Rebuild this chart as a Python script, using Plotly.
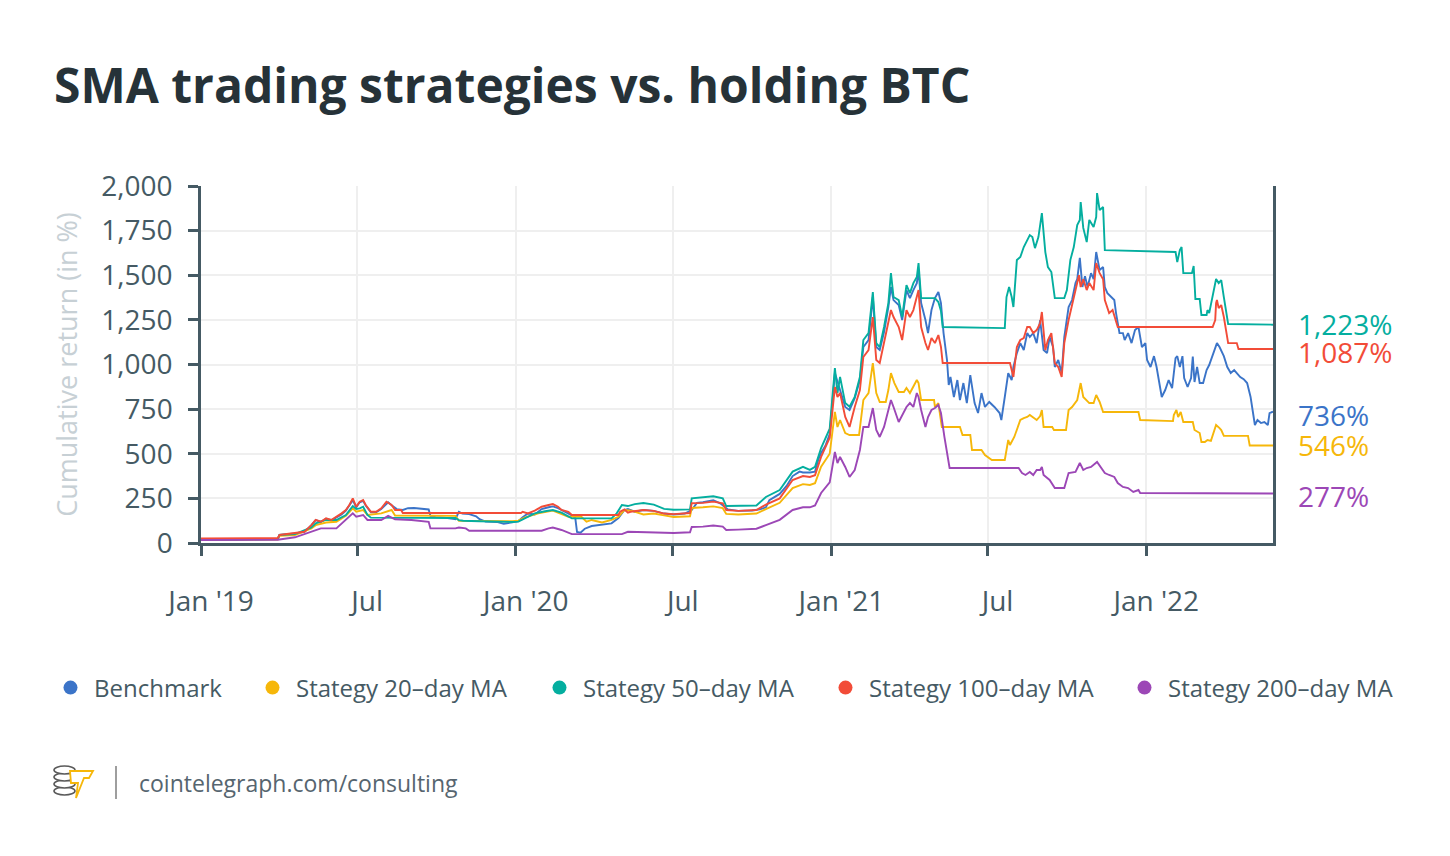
import plotly.graph_objects as go

# ---------------- data (cumulative return, %) ----------------
benchmark = [
    ("2019-01-01", 20), ("2019-02-10", 17), ("2019-03-31", 22), ("2019-04-02", 45), ("2019-04-20", 54),
    ("2019-05-01", 62), ("2019-05-09", 100), ("2019-05-14", 128), ("2019-05-20", 118), ("2019-05-26", 136),
    ("2019-06-01", 126), ("2019-06-07", 145), ("2019-06-13", 160), ("2019-06-18", 182), ("2019-06-22", 208),
    ("2019-06-26", 240), ("2019-06-30", 200), ("2019-07-04", 228), ("2019-07-08", 236), ("2019-07-11", 210),
    ("2019-07-17", 172), ("2019-07-23", 172), ("2019-07-29", 190), ("2019-08-06", 228), ("2019-08-10", 212),
    ("2019-08-16", 190), ("2019-08-23", 185), ("2019-08-29", 195), ("2019-09-05", 196), ("2019-09-14", 192),
    ("2019-09-22", 188), ("2019-09-24", 152), ("2019-09-30", 145), ("2019-10-10", 142), ("2019-10-19", 138),
    ("2019-10-23", 133), ("2019-10-27", 175), ("2019-10-31", 165), ("2019-11-08", 162), ("2019-11-16", 150),
    ("2019-11-20", 133), ("2019-11-27", 120), ("2019-12-10", 118), ("2019-12-18", 108), ("2019-12-28", 116),
    ("2020-01-04", 122), ("2020-01-09", 145), ("2020-01-15", 165), ("2020-01-23", 160), ("2020-01-31", 190),
    ("2020-02-08", 200), ("2020-02-13", 205), ("2020-02-19", 195), ("2020-02-25", 180), ("2020-03-06", 155),
    ("2020-03-10", 140), ("2020-03-12", 62), ("2020-03-16", 58), ("2020-03-21", 80), ("2020-03-29", 95),
    ("2020-04-05", 100), ("2020-04-13", 105), ("2020-04-21", 110), ("2020-04-29", 140), ("2020-05-06", 185),
    ("2020-05-10", 190), ("2020-05-18", 175), ("2020-05-28", 185), ("2020-06-09", 180), ("2020-06-21", 165),
    ("2020-07-02", 160), ("2020-07-15", 165), ("2020-07-23", 185), ("2020-07-29", 225), ("2020-08-05", 228),
    ("2020-08-17", 240), ("2020-08-25", 222), ("2020-09-03", 188), ("2020-09-15", 180), ("2020-10-01", 182),
    ("2020-10-10", 188), ("2020-10-17", 200), ("2020-10-21", 240), ("2020-11-02", 275), ("2020-11-10", 320),
    ("2020-11-17", 375), ("2020-11-25", 400), ("2020-11-29", 395), ("2020-12-07", 395), ("2020-12-13", 400),
    ("2020-12-17", 470), ("2020-12-20", 505), ("2020-12-25", 545), ("2020-12-30", 610), ("2021-01-05", 952),
    ("2021-01-11", 857), ("2021-01-17", 762), ("2021-01-22", 745), ("2021-01-28", 812), ("2021-02-03", 913),
    ("2021-02-07", 1098), ("2021-02-13", 1137), ("2021-02-18", 1378), ("2021-02-22", 1098), ("2021-02-26", 1081),
    ("2021-03-03", 1182), ("2021-03-08", 1322), ("2021-03-11", 1434), ("2021-03-14", 1361), ("2021-03-20", 1333),
    ("2021-03-24", 1249), ("2021-03-29", 1417), ("2021-04-02", 1372), ("2021-04-06", 1417), ("2021-04-10", 1456),
    ("2021-04-12", 1529), ("2021-04-15", 1344), ("2021-04-20", 1249), ("2021-04-23", 1176), ("2021-04-27", 1305),
    ("2021-05-01", 1372), ("2021-05-05", 1406), ("2021-05-08", 1344), ("2021-05-11", 1176), ("2021-05-15", 1025),
    ("2021-05-17", 885), ("2021-05-19", 930), ("2021-05-23", 818), ("2021-05-27", 913), ("2021-05-30", 801),
    ("2021-06-03", 896), ("2021-06-07", 784), ("2021-06-11", 941), ("2021-06-16", 784), ("2021-06-20", 728),
    ("2021-06-24", 840), ("2021-06-28", 762), ("2021-07-03", 790), ("2021-07-09", 762), ("2021-07-15", 728),
    ("2021-07-17", 689), ("2021-07-21", 818), ("2021-07-25", 952), ("2021-07-29", 913), ("2021-07-31", 986),
    ("2021-08-04", 1064), ("2021-08-08", 1120), ("2021-08-12", 1081), ("2021-08-16", 1176), ("2021-08-19", 1154),
    ("2021-08-23", 1176), ("2021-08-27", 1120), ("2021-08-31", 1249), ("2021-09-04", 1081), ("2021-09-08", 1064),
    ("2021-09-11", 1154), ("2021-09-15", 1098), ("2021-09-17", 986), ("2021-09-21", 1025), ("2021-09-25", 952),
    ("2021-09-28", 1154), ("2021-10-03", 1322), ("2021-10-07", 1361), ("2021-10-11", 1456), ("2021-10-13", 1478),
    ("2021-10-16", 1597), ("2021-10-19", 1434), ("2021-10-22", 1495), ("2021-10-25", 1434), ("2021-10-29", 1512),
    ("2021-11-01", 1478), ("2021-11-04", 1630), ("2021-11-08", 1529), ("2021-11-12", 1546), ("2021-11-14", 1434),
    ("2021-11-17", 1400), ("2021-11-21", 1378), ("2021-11-25", 1361), ("2021-11-27", 1288), ("2021-12-01", 1176),
    ("2021-12-05", 1176), ("2021-12-07", 1137), ("2021-12-11", 1176), ("2021-12-15", 1120), ("2021-12-19", 1193),
    ("2021-12-23", 1210), ("2021-12-27", 1098), ("2021-12-31", 1120), ("2022-01-02", 1025), ("2022-01-06", 986),
    ("2022-01-10", 1047), ("2022-01-13", 986), ("2022-01-17", 874), ("2022-01-19", 818), ("2022-01-23", 857),
    ("2022-01-27", 913), ("2022-01-31", 868), ("2022-02-04", 1036), ("2022-02-06", 1047), ("2022-02-09", 986),
    ("2022-02-12", 1047), ("2022-02-14", 924), ("2022-02-18", 874), ("2022-02-22", 924), ("2022-02-24", 1044),
    ("2022-02-26", 902), ("2022-03-01", 986), ("2022-03-04", 896), ("2022-03-08", 896), ("2022-03-12", 969),
    ("2022-03-15", 997), ("2022-03-19", 1047), ("2022-03-24", 1120), ("2022-03-27", 1098), ("2022-04-01", 1047),
    ("2022-04-05", 986), ("2022-04-09", 952), ("2022-04-13", 969), ("2022-04-16", 952), ("2022-04-20", 930),
    ("2022-04-24", 918), ("2022-04-28", 896), ("2022-05-02", 818), ("2022-05-05", 706), ("2022-05-07", 661),
    ("2022-05-10", 689), ("2022-05-14", 672), ("2022-05-18", 678), ("2022-05-22", 661), ("2022-05-24", 728),
    ("2022-05-28", 736),
]

ma20 = [
    ("2019-01-01", 19), ("2019-03-31", 20), ("2019-04-02", 40), ("2019-04-20", 45), ("2019-05-09", 82),
    ("2019-05-14", 100), ("2019-05-26", 115), ("2019-06-07", 119), ("2019-06-18", 152), ("2019-06-26", 194),
    ("2019-06-30", 175), ("2019-07-04", 180), ("2019-07-08", 185), ("2019-07-13", 157), ("2019-07-29", 166),
    ("2019-08-10", 185), ("2019-08-14", 154), ("2019-10-23", 152), ("2019-10-27", 125), ("2019-12-28", 122),
    ("2020-01-04", 125), ("2020-01-11", 142), ("2020-01-27", 166), ("2020-02-13", 181), ("2020-02-23", 163),
    ("2020-03-02", 147), ("2020-03-17", 147), ("2020-03-23", 119), ("2020-03-29", 129), ("2020-04-10", 115),
    ("2020-04-21", 129), ("2020-04-29", 147), ("2020-05-06", 185), ("2020-05-14", 181), ("2020-05-28", 160),
    ("2020-06-09", 165), ("2020-06-21", 155), ("2020-07-02", 146), ("2020-07-21", 150), ("2020-07-23", 196),
    ("2020-08-05", 200), ("2020-08-17", 205), ("2020-08-28", 195), ("2020-09-01", 163), ("2020-09-15", 160),
    ("2020-10-06", 165), ("2020-10-17", 190), ("2020-11-02", 225), ("2020-11-17", 308), ("2020-11-29", 330),
    ("2020-12-07", 325), ("2020-12-13", 335), ("2020-12-20", 427), ("2020-12-30", 500), ("2021-01-05", 734),
    ("2021-01-08", 650), ("2021-01-11", 689), ("2021-01-17", 616), ("2021-01-22", 605), ("2021-02-02", 605),
    ("2021-02-07", 801), ("2021-02-13", 840), ("2021-02-18", 1008), ("2021-02-22", 840), ("2021-02-26", 790),
    ("2021-03-05", 790), ("2021-03-08", 857), ("2021-03-11", 952), ("2021-03-15", 896), ("2021-03-20", 846),
    ("2021-03-26", 846), ("2021-03-29", 868), ("2021-04-02", 840), ("2021-04-06", 874), ("2021-04-10", 913),
    ("2021-04-12", 896), ("2021-04-15", 801), ("2021-04-30", 801), ("2021-05-01", 762), ("2021-05-05", 784),
    ("2021-05-09", 650), ("2021-05-30", 650), ("2021-06-02", 605), ("2021-06-11", 605), ("2021-06-13", 521),
    ("2021-06-24", 521), ("2021-06-28", 493), ("2021-07-06", 465), ("2021-07-21", 465), ("2021-07-25", 577),
    ("2021-07-27", 549), ("2021-08-01", 594), ("2021-08-05", 650), ("2021-08-08", 689), ("2021-08-12", 700),
    ("2021-08-16", 706), ("2021-08-19", 717), ("2021-08-22", 706), ("2021-08-27", 689), ("2021-08-31", 711),
    ("2021-09-02", 745), ("2021-09-04", 650), ("2021-09-14", 650), ("2021-09-16", 633), ("2021-09-30", 633),
    ("2021-10-03", 745), ("2021-10-07", 762), ("2021-10-13", 801), ("2021-10-17", 896), ("2021-10-20", 818),
    ("2021-10-24", 801), ("2021-10-27", 784), ("2021-11-01", 784), ("2021-11-04", 829), ("2021-11-08", 790),
    ("2021-11-12", 734), ("2021-12-23", 734), ("2021-12-25", 689), ("2022-02-01", 683), ("2022-02-02", 717),
    ("2022-02-05", 745), ("2022-02-07", 706), ("2022-02-10", 734), ("2022-02-13", 678), ("2022-02-24", 678),
    ("2022-02-26", 633), ("2022-03-04", 616), ("2022-03-06", 566), ("2022-03-10", 566), ("2022-03-13", 577),
    ("2022-03-17", 572), ("2022-03-20", 616), ("2022-03-23", 661), ("2022-03-27", 644), ("2022-03-29", 633),
    ("2022-04-01", 600), ("2022-04-29", 600), ("2022-05-01", 546), ("2022-05-28", 546),
]

ma50 = [
    ("2019-01-01", 20), ("2019-03-31", 22), ("2019-04-02", 45), ("2019-04-20", 50), ("2019-05-09", 87),
    ("2019-05-14", 110), ("2019-05-26", 130), ("2019-06-07", 129), ("2019-06-18", 157), ("2019-06-26", 207),
    ("2019-06-30", 190), ("2019-07-04", 194), ("2019-07-08", 203), ("2019-07-13", 157), ("2019-07-17", 142),
    ("2019-10-23", 140), ("2019-10-27", 128), ("2019-11-01", 125), ("2019-11-20", 122), ("2019-12-10", 118),
    ("2019-12-28", 118), ("2020-01-04", 120), ("2020-01-11", 138), ("2020-01-23", 166), ("2020-02-04", 178),
    ("2020-02-13", 185), ("2020-02-23", 170), ("2020-03-06", 138), ("2020-04-21", 138), ("2020-04-27", 166),
    ("2020-05-03", 213), ("2020-05-10", 207), ("2020-05-18", 218), ("2020-05-28", 224), ("2020-06-09", 215),
    ("2020-06-21", 191), ("2020-07-02", 186), ("2020-07-21", 188), ("2020-07-23", 250), ("2020-08-05", 255),
    ("2020-08-17", 262), ("2020-08-28", 250), ("2020-09-01", 207), ("2020-10-06", 210), ("2020-10-17", 258),
    ("2020-11-02", 297), ("2020-11-17", 400), ("2020-11-29", 427), ("2020-12-07", 410), ("2020-12-13", 427),
    ("2020-12-20", 532), ("2020-12-30", 640), ("2021-01-05", 980), ("2021-01-08", 840), ("2021-01-11", 930),
    ("2021-01-17", 784), ("2021-01-22", 763), ("2021-01-28", 818), ("2021-02-03", 930), ("2021-02-07", 1137),
    ("2021-02-13", 1176), ("2021-02-18", 1406), ("2021-02-22", 1120), ("2021-02-26", 1098), ("2021-03-03", 1210),
    ("2021-03-08", 1344), ("2021-03-11", 1512), ("2021-03-14", 1378), ("2021-03-20", 1361), ("2021-03-24", 1266),
    ("2021-03-29", 1445), ("2021-04-02", 1400), ("2021-04-06", 1456), ("2021-04-10", 1490), ("2021-04-12", 1568),
    ("2021-04-15", 1372), ("2021-05-01", 1372), ("2021-05-05", 1350), ("2021-05-08", 1300), ("2021-05-10", 1210),
    ("2021-07-21", 1204), ("2021-07-23", 1378), ("2021-07-26", 1434), ("2021-07-29", 1378), ("2021-07-31", 1322),
    ("2021-08-04", 1585), ("2021-08-08", 1602), ("2021-08-12", 1658), ("2021-08-16", 1697), ("2021-08-19", 1725),
    ("2021-08-22", 1714), ("2021-08-25", 1652), ("2021-08-29", 1714), ("2021-08-31", 1770), ("2021-09-02", 1848),
    ("2021-09-06", 1630), ("2021-09-09", 1546), ("2021-09-13", 1518), ("2021-09-17", 1372), ("2021-09-28", 1372),
    ("2021-10-01", 1417), ("2021-10-05", 1585), ("2021-10-09", 1658), ("2021-10-13", 1781), ("2021-10-16", 1810),
    ("2021-10-17", 1910), ("2021-10-20", 1765), ("2021-10-24", 1686), ("2021-10-27", 1810), ("2021-11-01", 1770),
    ("2021-11-04", 1826), ("2021-11-05", 1960), ("2021-11-08", 1865), ("2021-11-12", 1882), ("2021-11-14", 1641),
    ("2022-02-04", 1630), ("2022-02-06", 1574), ("2022-02-09", 1641), ("2022-02-11", 1658), ("2022-02-13", 1512),
    ("2022-02-23", 1512), ("2022-02-25", 1552), ("2022-02-27", 1367), ("2022-03-04", 1367), ("2022-03-06", 1277),
    ("2022-03-12", 1277), ("2022-03-13", 1305), ("2022-03-15", 1288), ("2022-03-19", 1378), ("2022-03-23", 1479),
    ("2022-03-26", 1456), ("2022-03-29", 1473), ("2022-04-01", 1378), ("2022-04-03", 1322), ("2022-04-06", 1227),
    ("2022-05-28", 1223),
]

ma100 = [
    ("2019-01-01", 26), ("2019-03-31", 28), ("2019-04-02", 45), ("2019-04-20", 54), ("2019-05-01", 63),
    ("2019-05-09", 100), ("2019-05-14", 129), ("2019-05-20", 119), ("2019-05-26", 138), ("2019-06-01", 129),
    ("2019-06-07", 147), ("2019-06-13", 166), ("2019-06-18", 185), ("2019-06-22", 213), ("2019-06-26", 250),
    ("2019-06-30", 203), ("2019-07-04", 231), ("2019-07-08", 241), ("2019-07-11", 213), ("2019-07-17", 175),
    ("2019-07-23", 175), ("2019-07-29", 194), ("2019-08-04", 231), ("2019-08-10", 213), ("2019-08-14", 185),
    ("2019-08-21", 185), ("2019-08-23", 168), ("2020-01-07", 168), ("2020-01-09", 175), ("2020-01-15", 166),
    ("2020-01-23", 181), ("2020-01-31", 203), ("2020-02-08", 213), ("2020-02-13", 218), ("2020-02-19", 203),
    ("2020-02-23", 185), ("2020-03-02", 175), ("2020-03-06", 157), ("2020-04-29", 157), ("2020-05-01", 175),
    ("2020-05-06", 188), ("2020-05-10", 170), ("2020-05-13", 175), ("2020-05-28", 185), ("2020-06-09", 180),
    ("2020-06-21", 165), ("2020-07-02", 162), ("2020-07-21", 168), ("2020-07-23", 223), ("2020-08-05", 225),
    ("2020-08-17", 232), ("2020-08-28", 222), ("2020-09-01", 185), ("2020-09-15", 180), ("2020-10-06", 185),
    ("2020-10-17", 215), ("2020-11-02", 250), ("2020-11-17", 353), ("2020-11-29", 375), ("2020-12-07", 370),
    ("2020-12-13", 380), ("2020-12-20", 482), ("2020-12-30", 590), ("2021-01-05", 874), ("2021-01-08", 818),
    ("2021-01-11", 840), ("2021-01-17", 706), ("2021-01-22", 650), ("2021-01-28", 762), ("2021-02-03", 857),
    ("2021-02-07", 1042), ("2021-02-13", 1081), ("2021-02-18", 1266), ("2021-02-22", 1025), ("2021-02-26", 1008),
    ("2021-03-03", 1120), ("2021-03-08", 1249), ("2021-03-11", 1305), ("2021-03-14", 1266), ("2021-03-20", 1210),
    ("2021-03-24", 1137), ("2021-03-29", 1305), ("2021-04-02", 1266), ("2021-04-06", 1305), ("2021-04-12", 1417),
    ("2021-04-15", 1210), ("2021-04-20", 1120), ("2021-04-23", 1081), ("2021-04-27", 1148), ("2021-05-01", 1120),
    ("2021-05-05", 1165), ("2021-05-08", 1098), ("2021-05-10", 1008), ("2021-07-27", 1008), ("2021-07-29", 969),
    ("2021-07-31", 930), ("2021-08-04", 1098), ("2021-08-08", 1137), ("2021-08-12", 1148), ("2021-08-16", 1210),
    ("2021-08-19", 1210), ("2021-08-23", 1176), ("2021-08-27", 1193), ("2021-08-31", 1232), ("2021-09-02", 1294),
    ("2021-09-06", 1081), ("2021-09-09", 1137), ("2021-09-13", 1176), ("2021-09-17", 1008), ("2021-09-21", 986),
    ("2021-09-25", 930), ("2021-09-28", 1120), ("2021-10-03", 1249), ("2021-10-07", 1333), ("2021-10-11", 1400),
    ("2021-10-15", 1500), ("2021-10-17", 1434), ("2021-10-20", 1478), ("2021-10-24", 1417), ("2021-10-27", 1456),
    ("2021-11-01", 1417), ("2021-11-04", 1568), ("2021-11-08", 1512), ("2021-11-12", 1478), ("2021-11-14", 1361),
    ("2021-11-17", 1322), ("2021-11-19", 1288), ("2021-11-23", 1305), ("2021-11-27", 1232), ("2021-11-29", 1210),
    ("2022-03-19", 1210), ("2022-03-22", 1249), ("2022-03-23", 1344), ("2022-03-24", 1361), ("2022-03-26", 1316),
    ("2022-03-29", 1333), ("2022-04-01", 1266), ("2022-04-03", 1210), ("2022-04-06", 1120), ("2022-04-16", 1120),
    ("2022-04-18", 1087), ("2022-05-28", 1087),
]

ma200 = [
    ("2019-01-01", 17), ("2019-03-31", 18), ("2019-04-20", 32), ("2019-05-09", 63), ("2019-05-20", 82),
    ("2019-06-07", 82), ("2019-06-18", 129), ("2019-06-26", 166), ("2019-06-30", 147), ("2019-07-08", 157),
    ("2019-07-13", 129), ("2019-07-29", 129), ("2019-08-06", 152), ("2019-08-14", 133), ("2019-09-02", 129),
    ("2019-09-22", 119), ("2019-09-24", 82), ("2019-10-23", 82), ("2019-10-27", 87), ("2019-11-04", 82),
    ("2019-11-08", 69), ("2020-01-31", 69), ("2020-02-08", 82), ("2020-02-13", 87), ("2020-02-23", 73),
    ("2020-03-06", 50), ("2020-05-03", 50), ("2020-05-10", 63), ("2020-06-01", 60), ("2020-06-21", 58),
    ("2020-07-02", 56), ("2020-07-21", 60), ("2020-07-23", 90), ("2020-08-05", 92), ("2020-08-17", 98),
    ("2020-08-28", 92), ("2020-09-01", 73), ("2020-09-15", 75), ("2020-10-06", 80), ("2020-10-17", 100),
    ("2020-11-02", 130), ("2020-11-17", 185), ("2020-11-29", 200), ("2020-12-07", 200), ("2020-12-13", 210),
    ("2020-12-20", 280), ("2020-12-30", 340), ("2021-01-05", 510), ("2021-01-08", 448), ("2021-01-11", 482),
    ("2021-01-17", 426), ("2021-01-22", 370), ("2021-01-28", 409), ("2021-02-03", 521), ("2021-02-07", 650),
    ("2021-02-13", 650), ("2021-02-18", 756), ("2021-02-22", 633), ("2021-02-26", 594), ("2021-03-03", 650),
    ("2021-03-08", 745), ("2021-03-11", 801), ("2021-03-14", 762), ("2021-03-20", 678), ("2021-03-29", 762),
    ("2021-04-02", 784), ("2021-04-06", 762), ("2021-04-10", 840), ("2021-04-12", 818), ("2021-04-15", 745),
    ("2021-04-20", 650), ("2021-04-23", 706), ("2021-04-27", 745), ("2021-05-01", 756), ("2021-05-05", 773),
    ("2021-05-08", 728), ("2021-05-12", 594), ("2021-05-16", 476), ("2021-05-18", 420), ("2021-08-06", 420),
    ("2021-08-10", 392), ("2021-08-14", 381), ("2021-08-19", 398), ("2021-08-23", 381), ("2021-08-27", 409),
    ("2021-08-31", 409), ("2021-09-02", 426), ("2021-09-04", 381), ("2021-09-11", 353), ("2021-09-17", 308),
    ("2021-09-28", 308), ("2021-10-03", 392), ("2021-10-11", 398), ("2021-10-16", 448), ("2021-10-20", 409),
    ("2021-10-24", 420), ("2021-10-29", 426), ("2021-11-05", 454), ("2021-11-09", 426), ("2021-11-14", 392),
    ("2021-11-19", 381), ("2021-11-25", 370), ("2021-11-29", 336), ("2021-12-05", 314), ("2021-12-11", 308),
    ("2021-12-17", 286), ("2021-12-23", 297), ("2021-12-25", 280), ("2022-05-28", 277),
]

series_names = ["Benchmark", "Stategy 20\u2013day MA", "Stategy 50\u2013day MA",
                "Stategy 100\u2013day MA", "Stategy 200\u2013day MA"]
series_data = [benchmark, ma20, ma50, ma100, ma200]
series_colors = ["#3b74c8", "#f6b70a", "#04ae9f", "#f24c38", "#9c47b6"]

x_tick_vals = ["2019-01-01", "2019-07-01", "2020-01-01", "2020-07-01",
               "2021-01-01", "2021-07-01", "2022-01-01"]
x_tick_text = ["Jan '19", "Jul", "Jan '20", "Jul", "Jan '21", "Jul", "Jan '22"]
y_tick_vals = [0, 250, 500, 750, 1000, 1250, 1500, 1750, 2000]

# ---------------- figure ----------------
W, H = 1450, 856
ML, MR, MT, MB = 201, 177, 186, 313
FONT = "Open Sans"
AXIS_C = "#455a64"
TICK_SIZE = 28

fig = go.Figure()
for name, data, color in zip(series_names, series_data, series_colors):
    fig.add_trace(go.Scatter(
        x=[d for d, _ in data], y=[v for _, v in data], mode="lines",
        line=dict(color=color, width=1.9), name=name, showlegend=False,
        hoverinfo="skip"))

# legend entries as dots, each in its own legend box so they sit on one row
legend_ids = ["legend", "legend2", "legend3", "legend4", "legend5"]
legend_left = [47, 249, 536, 822, 1121]
for name, color, lid in zip(series_names, series_colors, legend_ids):
    fig.add_trace(go.Scatter(x=[None], y=[None], mode="markers", legend=lid,
                             marker=dict(size=14, color=color), name=name))
legend_layout = {}
for lid, left in zip(legend_ids, legend_left):
    legend_layout[lid] = dict(orientation="h", xref="container", yref="container",
                              x=left / W, xanchor="left", y=1 - 688 / H, yanchor="middle",
                              font=dict(family=FONT, size=24, color=AXIS_C),
                              itemsizing="trace", itemwidth=37, bgcolor="rgba(0,0,0,0)")

# end-of-series labels (small pixel offsets to separate them, as in the original)
label_shift = [-3, 1, 1, -3, -2]
for data, color, ys in zip(series_data, series_colors, label_shift):
    last = data[-1][1]
    fig.add_annotation(x=1, xref="paper", y=last, yref="y", xanchor="left",
                       yanchor="middle", xshift=23, yshift=ys, showarrow=False,
                       text=f"{last:,}%", font=dict(family=FONT, size=TICK_SIZE, color=color))

# footer
def px(x):
    return (x - ML) / (W - ML - MR)

def py(y):
    return (H - MB - y) / (H - MT - MB)

fig.add_annotation(x=px(137), y=py(783), xref="paper", yref="paper", xanchor="left",
                   yanchor="middle", showarrow=False, text="cointelegraph.com/consulting",
                   font=dict(family=FONT, size=23, color="#56656f"))
shapes = [dict(type="line", xref="paper", yref="paper", x0=px(116), x1=px(116),
               y0=py(766), y1=py(799), line=dict(color="#9e9e9e", width=2))]
# simple coins + lightning logo
for cy in (791, 784, 777, 770):
    shapes.append(dict(type="circle", xref="paper", yref="paper",
                       x0=px(54), x1=px(75), y0=py(cy + 4), y1=py(cy - 4),
                       line=dict(color="#5a5a5a", width=1.6), fillcolor="white"))
bolt = [(70, 771), (93, 771), (89, 778), (84, 778), (76, 798), (78, 783), (71, 783)]
path = "M " + " L ".join(f"{px(a)},{py(b)}" for a, b in bolt) + " Z"
shapes.append(dict(type="path", xref="paper", yref="paper", path=path,
                   line=dict(color="#f6b70a", width=1.8), fillcolor="white"))

fig.update_layout(
    width=W, height=H,
    margin=dict(l=ML, r=MR, t=MT, b=MB, autoexpand=False),
    paper_bgcolor="white", plot_bgcolor="white",
    font=dict(family=FONT, color=AXIS_C),
    title=dict(text="<b>SMA trading strategies vs. holding BTC</b>", xref="container",
               yref="container", x=54 / W, xanchor="left", y=1 - 86 / H, yanchor="middle",
               font=dict(family=FONT, size=48, color="#263238")),
    xaxis=dict(type="date", range=["2019-01-01", "2022-05-28"], tickvals=x_tick_vals,
               ticktext=x_tick_text, showgrid=True, gridcolor="#efefef", gridwidth=2,
               showline=True, linecolor=AXIS_C, linewidth=2.5, ticks="outside", ticklen=10,
               tickwidth=2.5, tickcolor=AXIS_C, ticklabelstandoff=22, ticklabelshift=10,
               tickfont=dict(family=FONT, size=TICK_SIZE, color=AXIS_C), zeroline=False),
    yaxis=dict(range=[0, 2000], tickvals=y_tick_vals, tickformat=",d", showgrid=True,
               gridcolor="#efefef", gridwidth=2, showline=True, mirror=True,
               linecolor=AXIS_C, linewidth=2.5, ticks="outside", ticklen=10, tickwidth=2.5,
               tickcolor=AXIS_C, ticklabelstandoff=10, zeroline=False,
               tickfont=dict(family=FONT, size=TICK_SIZE, color=AXIS_C),
               title=dict(text="Cumulative return (in %)", standoff=16,
                          font=dict(family=FONT, size=27, color="#c7d0d5"))),
    shapes=shapes,
    showlegend=True,
    **legend_layout,
)

fig.write_html("out.html", config={"displayModeBar": False},
               post_script="document.body.style.margin='0px';")
